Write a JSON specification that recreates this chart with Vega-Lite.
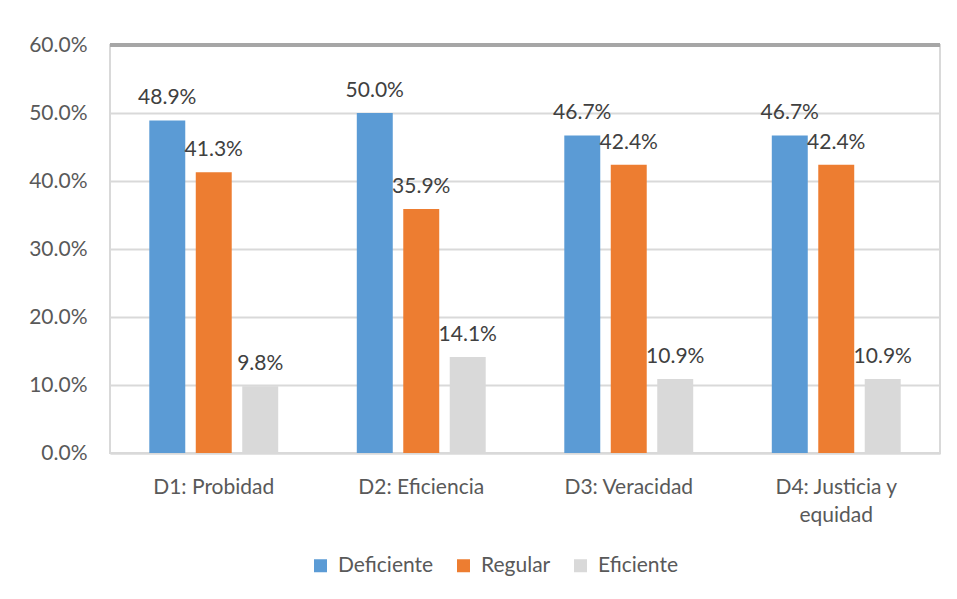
{
  "$schema": "https://vega.github.io/schema/vega-lite/v6.json",
  "width": 830,
  "height": 408,
  "autosize": {"type": "none"},
  "padding": {"left": 110, "top": 45, "right": 17, "bottom": 146},
  "background": "white",
  "config": {
    "font": "Lato",
    "view": {"stroke": "#d9d9d9", "strokeWidth": 2}
  },
  "data": {
    "values": [
      {"dim": "D1: Probidad", "nivel": "Deficiente", "valor": 0.489},
      {"dim": "D1: Probidad", "nivel": "Regular", "valor": 0.413},
      {"dim": "D1: Probidad", "nivel": "Eficiente", "valor": 0.098},
      {"dim": "D2: Eficiencia", "nivel": "Deficiente", "valor": 0.5},
      {"dim": "D2: Eficiencia", "nivel": "Regular", "valor": 0.359},
      {"dim": "D2: Eficiencia", "nivel": "Eficiente", "valor": 0.141},
      {"dim": "D3: Veracidad", "nivel": "Deficiente", "valor": 0.467},
      {"dim": "D3: Veracidad", "nivel": "Regular", "valor": 0.424},
      {"dim": "D3: Veracidad", "nivel": "Eficiente", "valor": 0.109},
      {"dim": "D4: Justicia y equidad", "nivel": "Deficiente", "valor": 0.467},
      {"dim": "D4: Justicia y equidad", "nivel": "Regular", "valor": 0.424},
      {"dim": "D4: Justicia y equidad", "nivel": "Eficiente", "valor": 0.109}
    ]
  },
  "encoding": {
    "x": {
      "field": "dim", "type": "nominal", "sort": null, "title": null,
      "scale": {"paddingInner": 0.325, "paddingOuter": 0.1625},
      "axis": {
        "labelAngle": 0, "labelFontSize": 21, "labelColor": "#595959",
        "labelPadding": 23, "ticks": false, "domainColor": "#d9d9d9", "domainWidth": 2,
        "labelExpr": "datum.label == 'D4: Justicia y equidad' ? ['D4: Justicia y', 'equidad'] : datum.label",
        "labelLineHeight": 28
      }
    },
    "xOffset": {
      "field": "nivel", "type": "nominal", "sort": ["Deficiente", "Regular", "Eficiente"],
      "scale": {"paddingInner": 0.226, "paddingOuter": 0.12}
    },
    "y": {
      "field": "valor", "type": "quantitative", "title": null,
      "scale": {"domain": [0, 0.6]},
      "axis": {
        "format": ".1%", "values": [0, 0.1, 0.2, 0.3, 0.4, 0.5, 0.6],
        "labelOverlap": false,
        "labelFontSize": 21, "labelColor": "#595959", "labelPadding": 23,
        "ticks": false, "domain": false, "gridColor": "#d9d9d9", "gridWidth": 2
      }
    }
  },
  "layer": [
    {
      "mark": {"type": "bar"},
      "encoding": {
        "color": {
          "field": "nivel", "type": "nominal", "sort": ["Deficiente", "Regular", "Eficiente"],
          "scale": {"domain": ["Deficiente", "Regular", "Eficiente"], "range": ["#5B9BD5", "#ED7D31", "#D9D9D9"]},
          "legend": {
            "title": null, "orient": "none", "direction": "horizontal",
            "legendX": 200, "legendY": 510,
            "symbolType": "square", "symbolSize": 169, "symbolStrokeWidth": 0,
            "labelFontSize": 21, "labelColor": "#595959", "labelOffset": 7,
            "columnPadding": 19
          }
        }
      }
    },
    {
      "mark": {"type": "text", "baseline": "alphabetic", "dy": -16, "fontSize": 21, "color": "#404040"},
      "encoding": {
        "text": {"field": "valor", "type": "quantitative", "format": ".1%"}
      }
    },
    {
      "mark": {"type": "rule", "color": "#a6a6a6", "strokeWidth": 4},
      "encoding": {"y": {"datum": 0.6}, "x": null, "xOffset": null}
    }
  ]
}
